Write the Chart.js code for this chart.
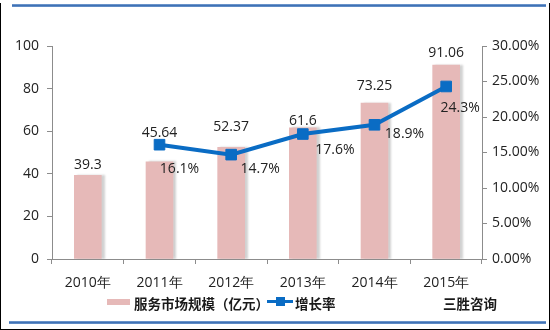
<!DOCTYPE html>
<html>
<head>
<meta charset="utf-8">
<script src="https://cdn.jsdelivr.net/npm/chart.js@4"></script>
<style>
  html, body { margin: 0; padding: 0; background: #fff; }
  #wrap { position: relative; width: 550px; height: 330px; overflow: hidden; }
  #chart { position: absolute; left: 0; top: 0; }
  .frame { position: absolute; background: #000; }
  .rule { position: absolute; height: 3px; background: linear-gradient(#7ea3d4, #3f72b5 50%, #6f97cc); }
  .legend { position: absolute; top: 295px; font-family: "Noto Sans CJK SC", sans-serif; font-size: 13.5px; font-weight: bold; color: #1a1a1a; line-height: 16px; white-space: nowrap; }
  .swatch { position: absolute; }
</style>
</head>
<body>
<div id="wrap">
  <canvas id="chart" width="550" height="330"></canvas>
  <div class="rule" style="left:12px; width:534px; top:4px;"></div>
  <div class="rule" style="left:9px; width:537px; top:321px;"></div>
  <div class="frame" style="left:0; top:3px; width:1px; height:327px;"></div>
  <div class="frame" style="left:549px; top:3px; width:1px; height:327px;"></div>
  <div class="frame" style="left:0; top:329px; width:550px; height:1px;"></div>

  <div class="swatch" style="left:107px; top:299px; width:23px; height:6px; background:#e6b9b8;"></div>
  <div class="legend" style="left:134px;">服务市场规模（亿元）</div>
  <div class="swatch" style="left:267px; top:300px; width:26px; height:3px; background:#0a6cc4;"></div>
  <div class="swatch" style="left:276px; top:297px; width:9px; height:9px; background:#0a6cc4;"></div>
  <div class="legend" style="left:295px;">增长率</div>
  <div class="legend" style="left:443px;">三胜咨询</div>
</div>
<script>
const years = ['2010年', '2011年', '2012年', '2013年', '2014年', '2015年'];
const marketSize = [39.3, 45.64, 52.37, 61.6, 73.25, 91.06];
const growthRate = [null, 16.1, 14.7, 17.6, 18.9, 24.3];

// label placement tweaks (pixels), like the hand-moved labels in the original
const sizeLabelLift = [10, 29, 20, 7, 17, 12];
const rateLabelShift = [null, [20, 24], [29, 14], [32, 16], [30, 9], [14, 22]];

const barColor = '#e6b9b8';
const lineColor = '#0a6cc4';
const axisColor = '#8c8c8c';
const textColor = '#222';
const tickFont = { family: '"Open Sans", "Noto Sans", sans-serif', size: 14 };

const barShadow = {
  id: 'barShadow',
  beforeDatasetDraw(chart, args) {
    if (chart.data.datasets[args.index].type !== 'bar') return;
    const c = chart.ctx;
    c.save();
    c.shadowColor = 'rgba(0,0,0,0.18)';
    c.shadowOffsetX = 3;
    c.shadowOffsetY = 0;
    c.shadowBlur = 2;
  },
  afterDatasetDraw(chart, args) {
    if (chart.data.datasets[args.index].type !== 'bar') return;
    chart.ctx.restore();
  }
};

const valueLabels = {
  id: 'valueLabels',
  afterDatasetsDraw(chart) {
    const c = chart.ctx;
    c.save();
    c.font = '14px "Open Sans", "Noto Sans", sans-serif';
    c.fillStyle = textColor;
    c.textAlign = 'center';
    c.textBaseline = 'middle';

    const bars = chart.getDatasetMeta(1);
    bars.data.forEach((el, i) => {
      c.fillText(String(marketSize[i]), el.x, el.y - sizeLabelLift[i]);
    });

    const pts = chart.getDatasetMeta(0);
    pts.data.forEach((el, i) => {
      if (growthRate[i] == null) return;
      const s = rateLabelShift[i];
      c.fillText(growthRate[i].toFixed(1) + '%', el.x + s[0], el.y + s[1]);
    });
    c.restore();
  }
};

new Chart(document.getElementById('chart'), {
  data: {
    labels: years,
    datasets: [
      {
        type: 'line',
        label: '增长率',
        data: growthRate,
        yAxisID: 'y1',
        borderColor: lineColor,
        backgroundColor: lineColor,
        borderWidth: 4,
        pointStyle: 'rect',
        pointRadius: 7.5,
        pointBorderWidth: 1,
        pointBackgroundColor: lineColor,
        pointBorderColor: lineColor,
        tension: 0,
        order: 0
      },
      {
        type: 'bar',
        label: '服务市场规模（亿元）',
        data: marketSize,
        yAxisID: 'y',
        backgroundColor: barColor,
        barThickness: 27,
        order: 1
      }
    ]
  },
  options: {
    responsive: false,
    animation: false,
    devicePixelRatio: 1,
    layout: { padding: { top: 46, left: 0, right: 0, bottom: 41 } },
    plugins: {
      legend: { display: false },
      tooltip: { enabled: false }
    },
    scales: {
      x: {
        grid: { display: true, drawOnChartArea: false, offset: true, color: axisColor, tickLength: 5 },
        border: { color: axisColor },
        ticks: { color: textColor, font: tickFont, padding: 11 },
        afterFit(scale) { scale.height = 30; }
      },
      y: {
        position: 'left',
        min: 0, max: 100,
        grid: { display: true, drawOnChartArea: false, color: axisColor, tickLength: 5 },
        border: { color: axisColor },
        ticks: { stepSize: 20, color: textColor, font: tickFont, padding: 8 },
        afterFit(scale) { scale.width = 52; }
      },
      y1: {
        position: 'right',
        min: 0, max: 30,
        grid: { display: true, drawOnChartArea: false, color: axisColor, tickLength: 5 },
        border: { color: axisColor },
        ticks: {
          stepSize: 5, color: textColor, font: tickFont, padding: 5,
          callback: v => v.toFixed(2) + '%'
        },
        afterFit(scale) { scale.width = 68; }
      }
    }
  },
  plugins: [barShadow, valueLabels]
});
</script>
</body>
</html>
